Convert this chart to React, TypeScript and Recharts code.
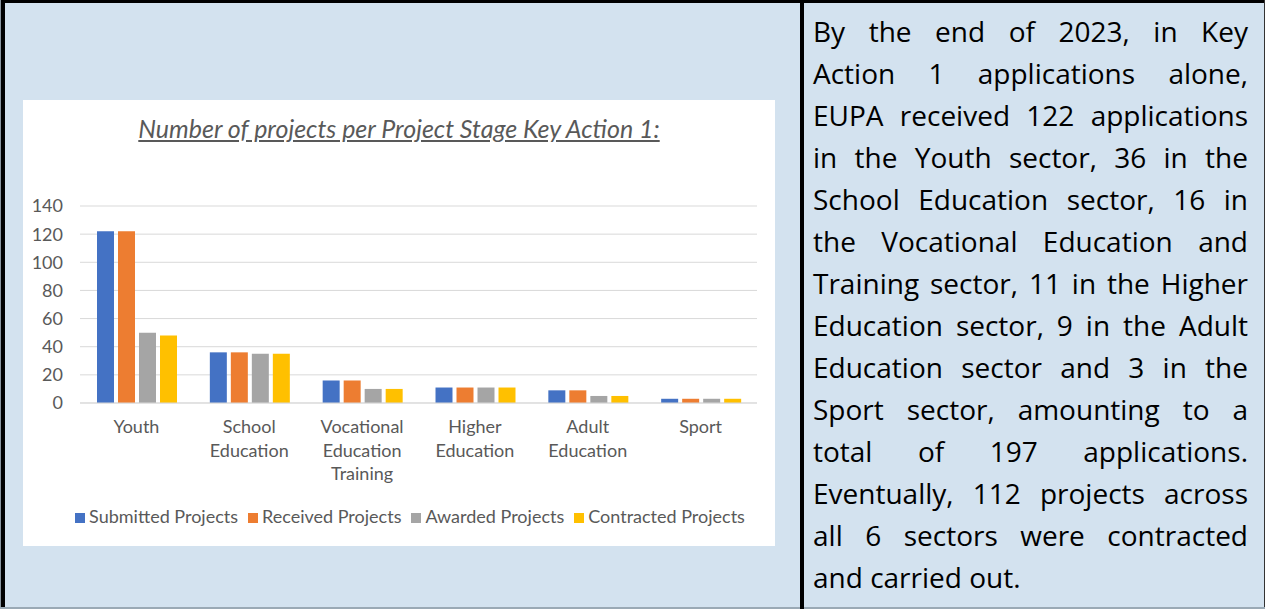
import React from 'react';
import { BarChart, Bar, XAxis, YAxis, CartesianGrid, Legend } from 'recharts';

const categories = ['Youth', 'School\nEducation', 'Vocational\nEducation\nTraining', 'Higher\nEducation', 'Adult\nEducation', 'Sport'];
const submitted = [122, 36, 16, 11, 9, 3];
const received = [122, 36, 16, 11, 9, 3];
const awarded = [50, 35, 10, 11, 5, 3];
const contracted = [48, 35, 10, 11, 5, 3];
const yTicks = [0, 20, 40, 60, 80, 100, 120, 140];
const seriesNames = ['Submitted Projects', 'Received Projects', 'Awarded Projects', 'Contracted Projects'];

const title = 'Number of projects per Project Stage Key Action 1:';

const textLines = [
  'By the end of 2023, in Key',
  'Action 1 applications alone,',
  'EUPA received 122 applications',
  'in the Youth sector, 36 in the',
  'School Education sector, 16 in',
  'the Vocational Education and',
  'Training sector, 11 in the Higher',
  'Education sector, 9 in the Adult',
  'Education sector and 3 in the',
  'Sport sector, amounting to a',
  'total of 197 applications.',
  'Eventually, 112 projects across',
  'all 6 sectors were contracted',
  'and carried out.',
];

const chartData = categories.map((name, i) => ({
  name,
  submitted: submitted[i],
  received: received[i],
  awarded: awarded[i],
  contracted: contracted[i],
}));

const GREY_TEXT = '#595959';
const BG = '#D3E2EF';

const CategoryTick = (props: any) => {
  const { x, y, payload } = props;
  const lines = String(payload.value).split('\n');
  return (
    <text x={x} y={y} textAnchor="middle" fill={GREY_TEXT} fontSize={18} fontFamily="Lato">
      {lines.map((line, i) => (
        <tspan key={i} x={x} dy={i === 0 ? 22 : 23.5}>
          {line}
        </tspan>
      ))}
    </text>
  );
};

const App: React.FC = () => {
  return (
    <div style={{ position: 'absolute', left: 0, top: 0, width: 1265, height: 609, background: BG, overflow: 'hidden' }}>
      {/* frame */}
      <div style={{ position: 'absolute', left: 0, top: 0, width: 1265, height: 3, background: '#000' }} />
      <div style={{ position: 'absolute', left: 0, top: 0, width: 1, height: 609, background: '#8a96a0' }} />
      <div style={{ position: 'absolute', left: 1, top: 0, width: 4, height: 609, background: '#000' }} />
      <div style={{ position: 'absolute', left: 1264, top: 0, width: 1, height: 609, background: '#333' }} />
      <div style={{ position: 'absolute', left: 0, top: 607, width: 1265, height: 2, background: '#9aa9b5' }} />
      <div style={{ position: 'absolute', left: 800, top: 0, width: 4, height: 609, background: '#000' }} />

      {/* chart card */}
      <div style={{ position: 'absolute', left: 23, top: 100, width: 752, height: 446, background: '#fff' }}>
        <div
          style={{
            position: 'absolute',
            left: 0,
            top: 14,
            width: 752,
            textAlign: 'center',
            fontFamily: 'Lato',
            fontStyle: 'italic',
            fontSize: 25,
            lineHeight: '28px',
            color: GREY_TEXT,
            textDecoration: 'underline',
          }}
        >
          {title}
        </div>
        <BarChart
          width={752}
          height={446}
          data={chartData}
          margin={{ top: 106, right: 18, left: 0, bottom: 63 }}
          barCategoryGap={17}
          barGap={4}
          style={{ position: 'absolute', left: 0, top: 0 }}
        >
          <CartesianGrid vertical={false} stroke="#D9D9D9" />
          <XAxis
            dataKey="name"
            height={80}
            tickLine={false}
            axisLine={{ stroke: '#D9D9D9' }}
            tick={<CategoryTick />}
            interval={0}
          />
          <YAxis
            width={57}
            domain={[0, 140]}
            ticks={yTicks}
            axisLine={false}
            tickLine={false}
            tickMargin={11}
            tick={{ fill: GREY_TEXT, fontSize: 18, fontFamily: 'Lato' }}
          />
          <Legend
            verticalAlign="middle"
            align="center"
            iconType="square"
            iconSize={10}
            itemSorter={(item: any) => seriesNames.indexOf(item.value)}
            wrapperStyle={{ top: 405, left: 16, width: 752, fontFamily: 'Lato', fontSize: 18 }}
            formatter={(value: string) => <span style={{ color: GREY_TEXT }}>{value}</span>}
          />
          <Bar dataKey="submitted" name={seriesNames[0]} fill="#4472C4" isAnimationActive={false} />
          <Bar dataKey="received" name={seriesNames[1]} fill="#ED7D31" isAnimationActive={false} />
          <Bar dataKey="awarded" name={seriesNames[2]} fill="#A5A5A5" isAnimationActive={false} />
          <Bar dataKey="contracted" name={seriesNames[3]} fill="#FFC000" isAnimationActive={false} />
        </BarChart>
      </div>

      {/* text panel */}
      <div
        style={{
          position: 'absolute',
          left: 813,
          top: 10,
          width: 435,
          fontFamily: 'Open Sans',
          fontSize: 28,
          lineHeight: '42px',
          color: '#000',
        }}
      >
        {textLines.map((line, i) => (
          <div
            key={i}
            style={{
              whiteSpace: 'nowrap',
              textAlign: i === textLines.length - 1 ? 'left' : 'justify',
              textAlignLast: i === textLines.length - 1 ? 'left' : 'justify',
            }}
          >
            {line}
          </div>
        ))}
      </div>
    </div>
  );
};

export default App;
